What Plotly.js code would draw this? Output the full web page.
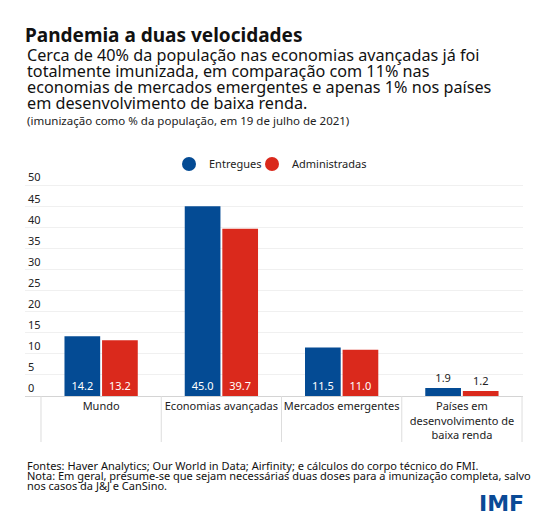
<!DOCTYPE html>
<html>
<head>
<meta charset="utf-8">
<script src="https://cdn.plot.ly/plotly-3.0.1.min.js"></script>
<style>
  html, body { margin: 0; padding: 0; background: #fff; }
  #chart { width: 550px; height: 524px; }
</style>
</head>
<body>
<div id="chart"></div>
<script>
// Daten
const categories = ['Mundo', 'Economias avançadas', 'Mercados emergentes', 'Países em desenvolvimento de baixa renda'];
const tickLabels = ['Mundo', 'Economias avançadas', 'Mercados emergentes', 'Países em<br>desenvolvimento de<br>baixa renda'];
const entregues = [14.2, 45.0, 11.5, 1.9];
const administradas = [13.2, 39.7, 11.0, 1.2];
const seriesNames = ['Entregues', 'Administradas'];
const yTicks = [0, 5, 10, 15, 20, 25, 30, 35, 40, 45, 50];

const titleText = 'Pandemia a duas velocidades';
const subtitleLines = [
    'Cerca de 40% da população nas economias avançadas já foi',
    'totalmente imunizada, em comparação com 11% nas',
    'economias de mercados emergentes e apenas 1% nos países',
    'em desenvolvimento de baixa renda.'
];
const unitNote = '(imunização como % da população, em 19 de julho de 2021)';
const footLines = [
    'Fontes: Haver Analytics; Our World in Data; Airfinity; e cálculos do corpo técnico do FMI.',
    'Nota: Em geral, presume-se que sejam necessárias duas doses para a imunização completa, salvo',
    'nos casos da J&J e CanSino.'
];

const FONT = '"Noto Sans", Lato, sans-serif';
const WIDE = '"DejaVu Sans", "Noto Sans", sans-serif';
const BLUE = '#044b94';
const RED = '#da291c';
const W = 550, H = 524;
const M = { l: 25, r: 27, t: 160, b: 128 };
const X_RANGE = [-0.633, 3.508];
const Y_RANGE = [0, 56];

// Pixel -> paper (bezogen auf den Plotbereich)
function px(x) { return (x - M.l) / (W - M.l - M.r); }
function py(y) { return (H - M.b - y) / (H - M.t - M.b); }
function catToPaper(i) { return (i - X_RANGE[0]) / (X_RANGE[1] - X_RANGE[0]); }

function barTrace(name, values, color) {
    return {
        type: 'bar', name: name, x: categories, y: values,
        marker: { color: color, line: { width: 0 } },
        texttemplate: '%{y:.1f}',
        textposition: values.map(v => v > 5 ? 'inside' : 'outside'),
        insidetextanchor: 'start',
        textangle: 0,
        constraintext: 'none',
        insidetextfont: { family: FONT, size: 11, color: '#ffffff' },
        outsidetextfont: { family: FONT, size: 11, color: '#222222' },
        cliponaxis: false,
        showlegend: false,
        hoverinfo: 'skip'
    };
}

// nur fuer die Legende (runde Symbole), jede Serie in eigener Legende
function legendTrace(name, color, legendId) {
    return {
        type: 'scatter', mode: 'markers', name: name,
        x: [null], y: [null],
        marker: { color: color, size: 14, symbol: 'circle' },
        showlegend: true, legend: legendId, hoverinfo: 'skip'
    };
}

const data = [
    barTrace(seriesNames[0], entregues, BLUE),
    barTrace(seriesNames[1], administradas, RED),
    legendTrace(seriesNames[0], BLUE, 'legend'),
    legendTrace(seriesNames[1], RED, 'legend2')
];

const annotations = [];
subtitleLines.forEach((line, i) => {
    annotations.push({
        text: line, xref: 'paper', yref: 'paper', x: px(25), y: py(55.5 + i * 15.9),
        xanchor: 'left', yanchor: 'middle', showarrow: false, align: 'left',
        font: { family: FONT, size: 16.2, color: '#111' }
    });
});
annotations.push({
    text: unitNote, xref: 'paper', yref: 'paper', x: px(25), y: py(120.5),
    xanchor: 'left', yanchor: 'middle', showarrow: false,
    font: { family: FONT, size: 11.5, color: '#222' }
});
footLines.forEach((line, i) => {
    annotations.push({
        text: line, xref: 'paper', yref: 'paper', x: px(25), y: py(465 + i * 10.5),
        xanchor: 'left', yanchor: 'middle', showarrow: false, align: 'left',
        font: { family: FONT, size: 11, color: '#111' }
    });
});
annotations.push({
    text: '<b>IMF</b>', xref: 'paper', yref: 'paper', x: px(526), y: py(503.5),
    xanchor: 'right', yanchor: 'middle', showarrow: false,
    font: { family: WIDE, size: 22, color: '#0a4a96' }
});

// Trennlinien zwischen den Kategorien
const shapes = [];
for (let i = 0; i <= categories.length; i++) {
    const xp = catToPaper(i - 0.5);
    shapes.push({
        type: 'line', xref: 'paper', yref: 'paper',
        x0: xp, x1: xp, y0: 0, y1: py(442),
        line: { color: '#dddddd', width: 1 }
    });
}

const legendBase = {
    orientation: 'h', xanchor: 'left', y: py(164), yanchor: 'middle',
    font: { family: FONT, size: 11, color: '#222' },
    bgcolor: 'rgba(0,0,0,0)'
};

const layout = {
    width: W, height: H,
    margin: M,
    paper_bgcolor: '#ffffff', plot_bgcolor: '#ffffff',
    font: { family: FONT, color: '#222' },
    title: {
        text: '<b>' + titleText + '</b>',
        xref: 'container', yref: 'container',
        x: 25 / W, y: 1 - 35 / H, xanchor: 'left', yanchor: 'middle',
        font: { family: FONT, size: 19, color: '#111' }
    },
    barmode: 'group', bargap: 0.375, bargroupgap: 0.05,
    xaxis: {
        type: 'category', range: X_RANGE, fixedrange: true,
        tickvals: categories, ticktext: tickLabels,
        ticks: '', showgrid: false, zeroline: false,
        showline: true, linecolor: '#d4d4d4', linewidth: 1,
        tickfont: { family: FONT, size: 11, color: '#222' }
    },
    yaxis: {
        range: Y_RANGE, fixedrange: true,
        tickvals: yTicks, ticks: '',
        ticklabelposition: 'inside top',
        showgrid: true, gridcolor: '#f0f0f0', gridwidth: 1,
        zeroline: false, showline: false,
        tickfont: { family: FONT, size: 11, color: '#222' }
    },
    legend: Object.assign({}, legendBase, { x: px(169) }),
    legend2: Object.assign({}, legendBase, { x: px(252) }),
    annotations: annotations,
    shapes: shapes
};

Plotly.newPlot('chart', data, layout, { staticPlot: true, displayModeBar: false });
</script>
</body>
</html>
